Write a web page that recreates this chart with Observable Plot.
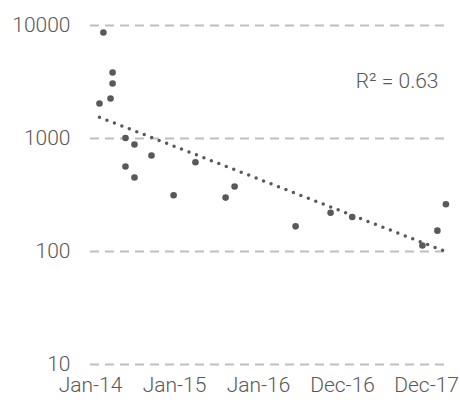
<!DOCTYPE html>
<html>
<head>
<meta charset="utf-8">
<script src="https://cdn.jsdelivr.net/npm/d3@7"></script>
<script src="https://cdn.jsdelivr.net/npm/@observablehq/plot@0.6"></script>
<style>
  html, body { margin: 0; padding: 0; background: #fff; }
  #chart svg text { font-family: "Roboto Light", Roboto, sans-serif; font-weight: 300; }
</style>
</head>
<body>
<div id="chart"></div>
<script>
// Observed dates (sample dates) and values
const dates = [
  "2014-02-09","2014-02-26","2014-03-29","2014-04-07","2014-04-07",
  "2014-06-02","2014-06-02","2014-07-11","2014-07-11","2014-09-23",
  "2014-12-28","2015-04-02","2015-08-11","2015-09-19","2016-06-10",
  "2016-11-09","2017-02-11","2017-12-13","2018-02-16","2018-03-25"
];
const values = [2040, 8670, 2260, 3840, 3070, 1010, 565, 885, 452, 707,
                315, 617, 300, 376, 167, 220, 202, 113, 153, 262];

const xTickDates = ["2014-01-01","2015-01-01","2016-01-01","2016-12-31","2017-12-31"];
const xTickLabels = ["Jan-14","Jan-15","Jan-16","Dec-16","Dec-17"];
const yTicks = [10, 100, 1000, 10000];
const xDomain = ["2014-01-01", "2018-04-14"];
const annotation = "R² = 0.63";

const data = dates.map((d, i) => ({date: new Date(d), value: values[i]}));

// Exponential trend line (least squares on log10 values)
const xs = data.map(d => +d.date);
const ys = data.map(d => Math.log10(d.value));
const mx = d3.mean(xs), my = d3.mean(ys);
const sxy = d3.sum(xs, (x, i) => (x - mx) * (ys[i] - my));
const sxx = d3.sum(xs, x => (x - mx) ** 2);
const slope = sxy / sxx;
const icpt = my - slope * mx;
const xExt = d3.extent(xs);
const trend = xExt.map(x => ({date: new Date(x), value: Math.pow(10, icpt + slope * x)}));

const tickDates = xTickDates.map(d => new Date(d));
const labelFor = d => {
  const i = tickDates.findIndex(t => +t === +d);
  return i >= 0 ? xTickLabels[i] : "";
};

const FS = 21;
const chart = Plot.plot({
  width: 460,
  height: 403,
  marginLeft: 90,
  marginRight: 10,
  marginTop: 25,
  marginBottom: 39,
  style: {fontFamily: "Roboto", fontSize: FS + "px", color: "#595959", background: "#fff"},
  x: {type: "time", domain: xDomain.map(d => new Date(d))},
  y: {type: "log", domain: [10, 10000]},
  marks: [
    Plot.ruleY(yTicks, {stroke: "#bfbfbf", strokeWidth: 2, strokeDasharray: "9,6"}),
    Plot.axisY({ticks: yTicks, tickFormat: d3.format("d"), tickSize: 0, tickPadding: 20, label: null, fill: "#595959", fontSize: FS}),
    Plot.axisX({ticks: tickDates, tickFormat: labelFor, tickSize: 0, tickPadding: 13, label: null, fill: "#595959", fontSize: FS}),
    Plot.line(trend, {x: "date", y: "value", stroke: "#595959", strokeWidth: 3.5, strokeDasharray: "0,8", strokeLinecap: "round"}),
    Plot.dot(data, {x: "date", y: "value", r: 3.3, fill: "#595959", stroke: "none"}),
    Plot.text([annotation], {frameAnchor: "top-right", dx: -12, dy: 56, textAnchor: "end", lineAnchor: "middle", fill: "#595959", fontSize: FS})
  ]
});
document.getElementById("chart").appendChild(chart);
</script>
</body>
</html>
